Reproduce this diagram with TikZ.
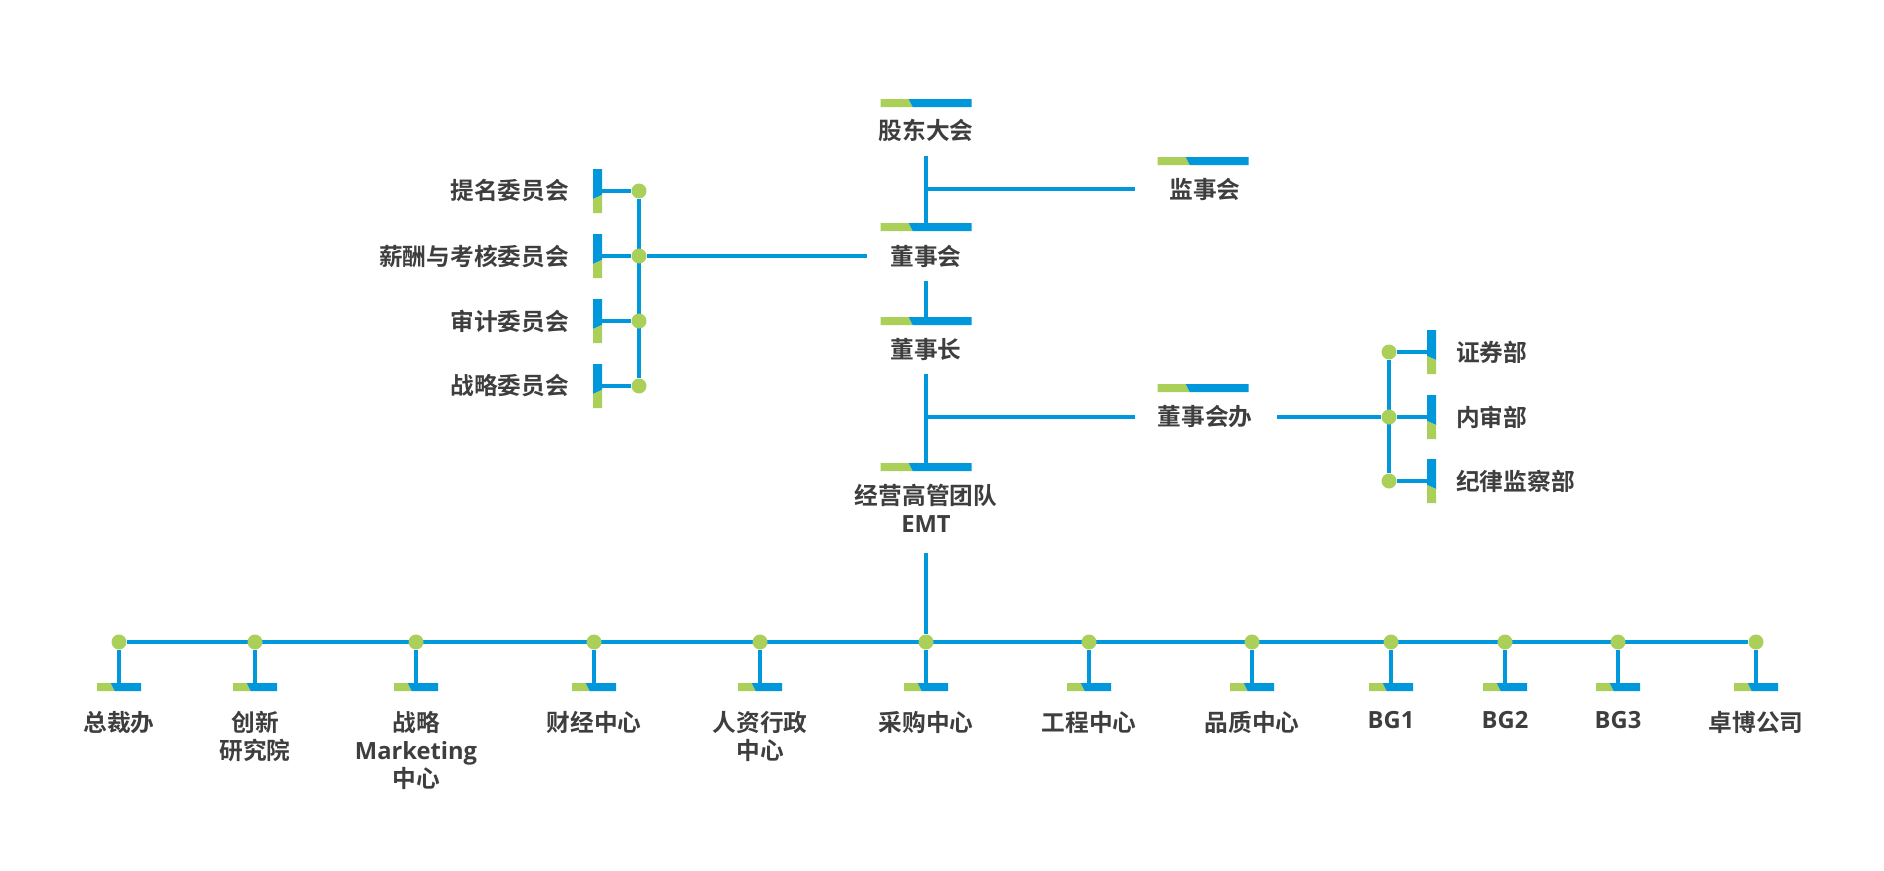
\documentclass[tikz,border=0pt]{standalone}
\usepackage{fontspec}
\newfontfamily\cjk{Noto Sans CJK SC}[BoldFont={Noto Sans CJK SC Bold}]
\newfontfamily\latn{Open Sans}
\usetikzlibrary{backgrounds}
\definecolor{lblue}{RGB}{0,152,219}
\definecolor{lgreen}{RGB}{170,208,90}
\definecolor{txtgray}{RGB}{62,62,62}
\tikzset{
    link/.style={lblue, line width=3.4pt},
    dot/.style={circle, fill=lgreen, inner sep=0pt, minimum size=15pt},
    unit/.style={font=\cjk\bfseries\fontsize{23.7}{28}\selectfont,
        text=txtgray, inner sep=0pt, align=center},
    pics/hbar/.style={code={
        \fill[lgreen] ({-#1/2},0) -- ({-#1/2+0.31*#1},0)
            -- ({-#1/2+0.31*#1+4},8) -- ({-#1/2},8) -- cycle;
        \fill[lblue] ({-#1/2+0.31*#1},0) -- ({#1/2},0)
            -- ({#1/2},8) -- ({-#1/2+0.31*#1+4},8) -- cycle;
        \coordinate (-top) at (0,0);
    }},
    pics/vbar/.style={code={
        \fill[lblue] (-4.5,-22) -- (4.5,-22) -- (4.5,4) -- (-4.5,8) -- cycle;
        \fill[lgreen] (-4.5,8) -- (4.5,4) -- (4.5,22) -- (-4.5,22) -- cycle;
        \coordinate (-side) at (4.5,0);
    }}
}

\begin{document}
\begin{tikzpicture}[x=1pt, y=-1pt]
    \useasboundingbox (0,0) rectangle (1884,870);

    \node[unit] (gd) at (926,130) {股东大会};
    \pic (gdbar) at (926,99) {hbar=91};
    \node[unit] (jsh) at (1205,189) {监事会};
    \pic (jshbar) at (1203,157) {hbar=91};
    \node[unit] (dsh) at (926,256) {董事会};
    \pic (dshbar) at (926,223) {hbar=91};
    \node[unit] (dsz) at (926,350) {董事长};
    \pic (dszbar) at (926,317) {hbar=91};
    \node[unit] (emt) at (926,508) {经营高管团队\\{\latn EMT}};
    \pic (emtbar) at (926,463) {hbar=91};
    \node[unit] (dshb) at (1205,417) {董事会办};
    \pic (dshbbar) at (1203,384) {hbar=91};

    \foreach \y/\t [count=\i] in {191/提名委员会, 256/薪酬与考核委员会,
            321/审计委员会, 386/战略委员会}{
        \node[unit, anchor=east] (c\i) at (569,\y) {\t};
        \pic (cbar\i) at (597.5,\y) {vbar};
        \node[dot] (cd\i) at (639,\y) {};
    }

    \foreach \y/\t [count=\i] in {352/证券部, 417/内审部, 481/纪律监察部}{
        \node[unit, anchor=west] (r\i) at (1456,\y) {\t};
        \pic[xscale=-1] (rbar\i) at (1431.5,\y) {vbar};
        \node[dot] (rd\i) at (1389,\y) {};
    }

    \foreach \x/\t [count=\i] in {119/总裁办, 255/{创新\\研究院},
            416/{战略\\{\latn Marketing}\\中心}, 594/财经中心, 760/{人资行政\\中心},
            926/采购中心, 1089/工程中心, 1252/品质中心, 1391/{\latn BG1},
            1505/{\latn BG2}, 1618/{\latn BG3}, 1756/卓博公司}{
        \node[dot] (b\i) at (\x,642) {};
        \pic (bbar\i) at (\x,683) {hbar=44};
        \node[unit, anchor=north] (bl\i) at (\x,711) {\t};
    }

    \begin{scope}[on background layer]
        \draw[link, shorten <=26pt] (gd.center) -- (dshbar-top);
        \draw[link, shorten >=70pt] (gd.center |- jsh.center) -- (jsh.center);
        \draw[link, shorten <=25pt] (dsh.center) -- (dszbar-top);
        \draw[link, shorten <=59pt] (dsh.center) -- (cd2);
        \draw[link] (cd1) -- (cd4);
        \foreach \i in {1,...,4}
            \draw[link] (cd\i) -- (cbar\i-side);
        \draw[link, shorten <=24pt] (dsz.center) -- (emtbar-top);
        \draw[link, shorten >=70pt] (dsz.center |- dshb.center) -- (dshb.center);
        \draw[link, shorten <=72pt] (dshb.center) -- (rd2);
        \draw[link] (rd1) -- (rd3);
        \foreach \i in {1,2,3}
            \draw[link] (rd\i) -- (rbar\i-side);
        \draw[link, shorten <=45pt] (emt.center) -- (b6);
        \draw[link] (b1) -- (b12);
        \foreach \i in {1,...,12}
            \draw[link] (b\i) -- (bbar\i-top);
    \end{scope}
\end{tikzpicture}
\end{document}
